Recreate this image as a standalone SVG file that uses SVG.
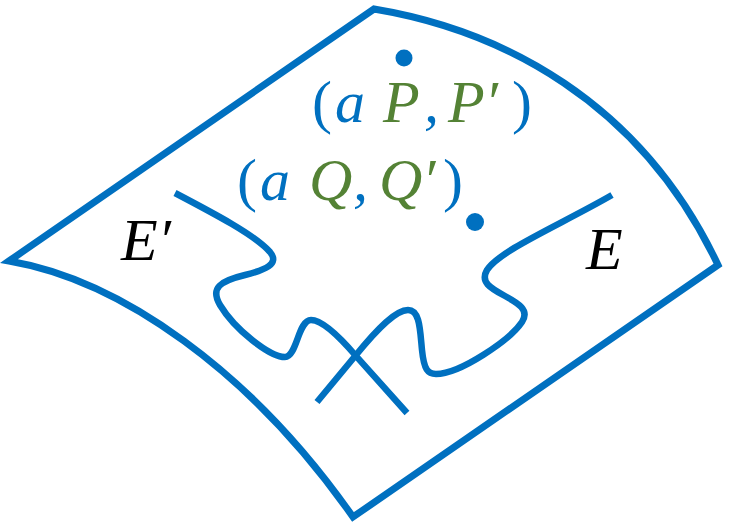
<svg xmlns="http://www.w3.org/2000/svg" width="730" height="527" viewBox="0 0 730 527">
<style>
.ln{fill:none;stroke:#0070C0;stroke-width:6.5;stroke-linejoin:miter;stroke-linecap:butt}
.ol{stroke-width:7}
.dot{fill:#0070C0}
.t{font-family:"Liberation Serif","Times New Roman",serif;font-size:60px;font-style:italic}
.b{fill:#0070C0}
.g{fill:#548235}
.k{fill:#000000}
.up{font-style:normal}
</style>
<rect width="730" height="527" fill="#ffffff"/>
<g id="surface">
<path class="ln ol" d="M9,261 L374,9 C500,30 640,100 718,265 L353,517 C250,370 120,280 9,261 Z"/>
</g>
<g id="curve-E-prime">
<path class="ln" d="M175,193 C215,214 255,235 270,252 C280,264 265,270 245,275 C220,281 210,288 220,305 C235,330 270,357 285,357 C297,357 298,320 311,320 C322,320 338,335 356,356 L407,413"/>
</g>
<g id="curve-E">
<path class="ln" d="M317,402 L356,355 C378,328 396,310 408,310 C420,310 420,330 422,350 C424,370 428,374 436,374 C460,374 510,340 522,322 C530,310 518,303 505,296 C490,288 480,282 487,270 C500,250 560,225 612,195"/>
</g>
<g id="point-P">
<circle class="dot" cx="404" cy="58" r="8.5"/>
</g>
<g id="point-Q">
<circle class="dot" cx="475" cy="222" r="9"/>
</g>
<g id="label-P">
<text class="t" y="122"><tspan class="b up" x="312">(</tspan><tspan class="b" x="335">a</tspan><tspan class="g" x="383">P</tspan><tspan class="b" x="424">,</tspan><tspan class="g" x="448">P′</tspan><tspan class="b up" x="512">)</tspan></text>
</g>
<g id="label-Q">
<text class="t" y="200"><tspan class="b up" x="237">(</tspan><tspan class="b" x="260">a</tspan><tspan class="g" x="309">Q</tspan><tspan class="b" x="353">,</tspan><tspan class="g" x="379">Q′</tspan><tspan class="b up" x="443">)</tspan></text>
</g>
<g id="label-E-prime">
<text class="t k" x="121" y="260">E′</text>
</g>
<g id="label-E">
<text class="t k" x="586" y="269">E</text>
</g>
<g id="connectors"></g>
</svg>
